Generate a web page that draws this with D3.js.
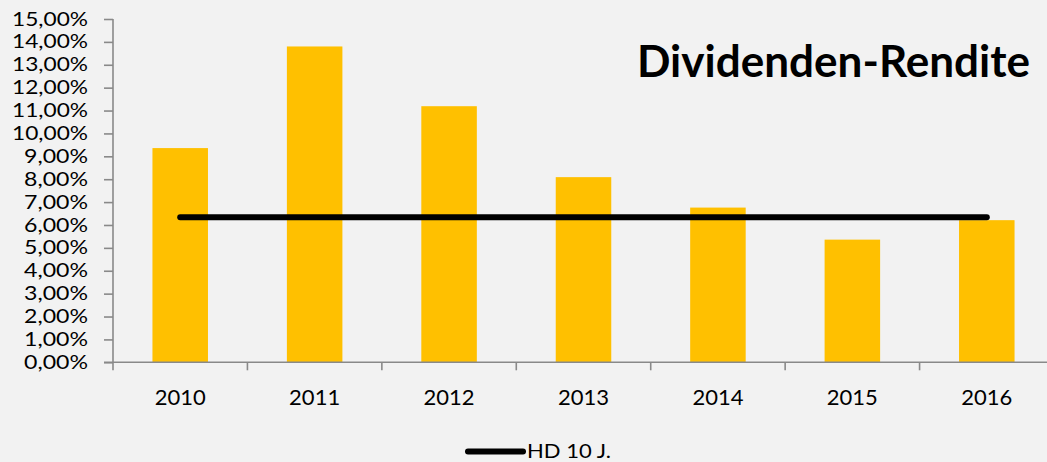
<!DOCTYPE html>
<html>
<head>
<meta charset="utf-8">
<script src="https://cdn.jsdelivr.net/npm/d3@7"></script>
<style>
  html, body { margin: 0; padding: 0; background: #f2f2f2; }
  svg { display: block; font-family: Lato, "Open Sans", sans-serif; }
</style>
</head>
<body>
<svg id="chart" width="1047" height="462"></svg>
<script>
// Dividend yield per year, in percent
const years = ["2010", "2011", "2012", "2013", "2014", "2015", "2016"];
const yieldValues = [9.36, 13.8, 11.19, 8.09, 6.76, 5.36, 6.21];
// Ten-year average (HD 10 J.)
const avgValues = [6.34, 6.34, 6.34, 6.34, 6.34, 6.34, 6.34];
const yTicks = [0, 1, 2, 3, 4, 5, 6, 7, 8, 9, 10, 11, 12, 13, 14, 15];
const titleText = "Dividenden-Rendite";
const legendLabel = "HD 10 J.";

const svg = d3.select("#chart");
const axisColor = "#898989";
const barColor = "#ffc000";

const plot = { left: 113, right: 1054, top: 19, bottom: 362.3 };

const y = d3.scaleLinear().domain([0, 15]).range([plot.bottom, plot.top]);
const x = d3.scaleBand().domain(years).range([plot.left, plot.right])
  .paddingInner(0.587).paddingOuter(0.2935);
const xCat = d3.scaleBand().domain(years).range([plot.left, plot.right]).padding(0);

const fmt = v => v.toFixed(2).replace(".", ",") + "%";

// Bars
svg.append("g").selectAll("rect").data(years).join("rect")
  .attr("x", d => x(d))
  .attr("width", x.bandwidth())
  .attr("y", (d, i) => y(yieldValues[i]))
  .attr("height", (d, i) => y(0) - y(yieldValues[i]))
  .attr("fill", barColor);

// Y axis
const yAxis = d3.axisLeft(y).tickValues(yTicks).tickFormat(fmt).tickSize(9).tickPadding(16);
const gy = svg.append("g").attr("transform", `translate(${plot.left},0)`).call(yAxis);
gy.select(".domain").attr("stroke", axisColor).attr("stroke-width", 1.6)
  .attr("d", `M0,${plot.top}V${plot.bottom}`);
gy.selectAll(".tick line").attr("stroke", axisColor).attr("stroke-width", 1.6);
gy.selectAll(".tick text").attr("fill", "#000").style("font-size", "19px")
  .style("font-family", "Lato, sans-serif")
  .attr("textLength", 76).attr("lengthAdjust", "spacingAndGlyphs")
  .each(function (d) {
    // narrower single-digit labels keep their proportion
    if (d < 10) d3.select(this).attr("textLength", 64);
  });

// X axis: baseline with category-boundary ticks
const gx = svg.append("g");
gx.append("line")
  .attr("x1", plot.left - 9).attr("x2", plot.right)
  .attr("y1", y(0)).attr("y2", y(0))
  .attr("stroke", axisColor).attr("stroke-width", 1.6);
const boundaries = years.map(d => xCat(d)).concat([xCat(years[years.length - 1]) + xCat.bandwidth()]);
gx.selectAll("line.tk").data(boundaries).join("line").attr("class", "tk")
  .attr("x1", d => d).attr("x2", d => d)
  .attr("y1", y(0)).attr("y2", y(0) + 8)
  .attr("stroke", axisColor).attr("stroke-width", 1.6);
gx.selectAll("text").data(years).join("text")
  .attr("x", d => x(d) + x.bandwidth() / 2)
  .attr("y", 404.5)
  .attr("text-anchor", "middle")
  .style("font-size", "22px")
  .attr("fill", "#000")
  .text(d => d);

// Average line
const line = d3.line()
  .x((d, i) => x(years[i]) + x.bandwidth() / 2)
  .y(d => y(d));
svg.append("path").datum(avgValues)
  .attr("d", line)
  .attr("fill", "none").attr("stroke", "#000")
  .attr("stroke-width", 6).attr("stroke-linecap", "round");

// Title
svg.append("text")
  .attr("x", 637).attr("y", 77)
  .style("font-size", "44px").style("font-weight", "700")
  .attr("textLength", 393).attr("lengthAdjust", "spacingAndGlyphs")
  .attr("fill", "#000")
  .text(titleText);

// Legend
svg.append("line")
  .attr("x1", 468).attr("x2", 523).attr("y1", 451.5).attr("y2", 451.5)
  .attr("stroke", "#000").attr("stroke-width", 6).attr("stroke-linecap", "round");
svg.append("text")
  .attr("x", 527).attr("y", 457.8)
  .style("font-size", "19.5px")
  .attr("textLength", 84).attr("lengthAdjust", "spacingAndGlyphs")
  .attr("fill", "#000")
  .text(legendLabel);
</script>
</body>
</html>
